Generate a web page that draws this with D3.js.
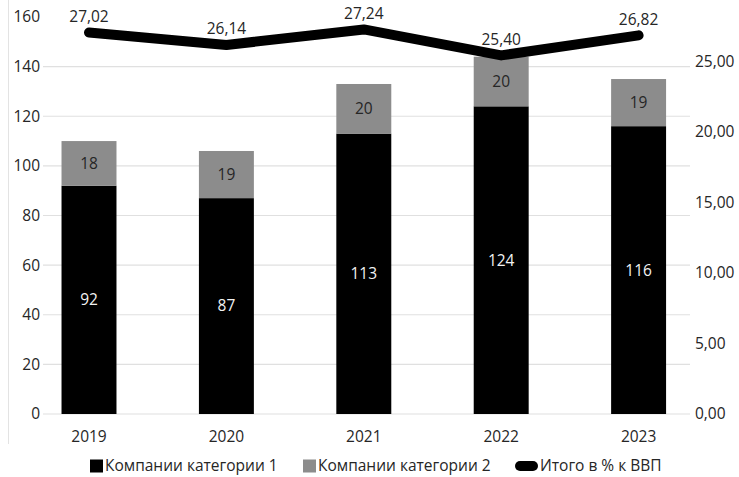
<!DOCTYPE html>
<html><head><meta charset="utf-8">
<script src="https://cdn.jsdelivr.net/npm/d3@7/dist/d3.min.js"></script>
<style>
html,body{margin:0;padding:0;background:#fff;}
text{font-family:"Open Sans",sans-serif;}
</style></head>
<body><svg id="chart" width="739" height="477"></svg>
<script>
const years = ["2019","2020","2021","2022","2023"];
const cat1 = [92, 87, 113, 124, 116];
const cat2 = [18, 19, 20, 20, 19];
const gdpShare = [27.02, 26.14, 27.24, 25.40, 26.82];
const leftTicks = [0,20,40,60,80,100,120,140,160];
const gridTicks = [0,20,40,60,80,100,120,140];
const rightTicks = [0,5,10,15,20,25];
const seriesNames = ["Компании категории 1","Компании категории 2","Итого в % к ВВП"];

const svg = d3.select("#chart");
const fs = 15.5, txt = "#262626";
const c1 = "#000000", c2 = "#8c8c8c";

const x = d3.scaleBand().domain(years).range([20.3, 707.3]).paddingInner(0.6).paddingOuter(0.3);
const yL = d3.scaleLinear().domain([0,160]).range([414,17]);
const yR = d3.scaleLinear().domain([0,28.12]).range([414,17]);
const fmt = d => d.toFixed(2).replace(".", ",");

// frame line at left
svg.append("line").attr("x1",8.5).attr("x2",8.5).attr("y1",0).attr("y2",444).attr("stroke","#e3e3e3");

// gridlines
svg.append("g").selectAll("line").data(gridTicks).join("line")
  .attr("x1",43).attr("x2",690).attr("y1",d=>yL(d)).attr("y2",d=>yL(d))
  .attr("stroke","#e0e0e0").attr("stroke-width",1.2);

// left axis
const gL = svg.append("g").attr("transform","translate(40,0)")
  .call(d3.axisLeft(yL).tickValues(leftTicks).tickSize(0).tickPadding(0));
gL.select(".domain").remove();
gL.selectAll("text").attr("font-size",fs).attr("fill",txt).attr("font-family","Open Sans");

// right axis
const gR = svg.append("g").attr("transform","translate(695,0)")
  .call(d3.axisRight(yR).tickValues(rightTicks).tickFormat(fmt).tickSize(0).tickPadding(0));
gR.select(".domain").remove();
gR.selectAll("text").attr("font-size",fs).attr("fill",txt).attr("font-family","Open Sans");

// x axis
const gX = svg.append("g").attr("transform","translate(0,431)")
  .call(d3.axisBottom(x).tickSize(0).tickPadding(0));
gX.select(".domain").remove();
gX.selectAll("text").attr("font-size",fs).attr("fill",txt).attr("font-family","Open Sans").attr("dy","0.71em");

// bars
const bars = svg.append("g");
bars.selectAll("rect.c1").data(years).join("rect").attr("class","c1")
  .attr("x",d=>x(d)).attr("width",x.bandwidth())
  .attr("y",(d,i)=>yL(cat1[i])).attr("height",(d,i)=>yL(0)-yL(cat1[i])).attr("fill",c1);
bars.selectAll("rect.c2").data(years).join("rect").attr("class","c2")
  .attr("x",d=>x(d)).attr("width",x.bandwidth())
  .attr("y",(d,i)=>yL(cat1[i]+cat2[i])).attr("height",(d,i)=>yL(cat1[i])-yL(cat1[i]+cat2[i])).attr("fill",c2);

// bar labels
bars.selectAll("text.l1").data(years).join("text").attr("class","l1")
  .attr("x",d=>x(d)+x.bandwidth()/2).attr("y",(d,i)=>yL(cat1[i]/2))
  .attr("text-anchor","middle").attr("dy","0.35em").attr("font-size",fs).attr("fill","#f2f2f2")
  .text((d,i)=>cat1[i]);
bars.selectAll("text.l2").data(years).join("text").attr("class","l2")
  .attr("x",d=>x(d)+x.bandwidth()/2).attr("y",(d,i)=>yL(cat1[i]+cat2[i]/2))
  .attr("text-anchor","middle").attr("dy","0.35em").attr("font-size",fs).attr("fill","#262626")
  .text((d,i)=>cat2[i]);

// line
const line = d3.line().x((d,i)=>x(years[i])+x.bandwidth()/2).y(d=>yR(d));
svg.append("path").datum(gdpShare).attr("d",line).attr("fill","none")
  .attr("stroke","#000").attr("stroke-width",10).attr("stroke-linecap","round").attr("stroke-linejoin","round");
svg.append("g").selectAll("text").data(gdpShare).join("text")
  .attr("x",(d,i)=>x(years[i])+x.bandwidth()/2).attr("y",d=>yR(d)-16)
  .attr("text-anchor","middle").attr("dy","0.35em").attr("font-size",fs).attr("fill","#262626")
  .text(d=>fmt(d));

// legend
const lg = svg.append("g");
const ly = 466;
lg.append("rect").attr("x",90).attr("y",ly-6.5).attr("width",13).attr("height",13).attr("fill",c1);
lg.append("text").attr("x",105).attr("y",ly).attr("dy","0.35em").attr("font-size",fs).attr("fill",txt).text(seriesNames[0]);
lg.append("rect").attr("x",303).attr("y",ly-6.5).attr("width",13).attr("height",13).attr("fill",c2);
lg.append("text").attr("x",318).attr("y",ly).attr("dy","0.35em").attr("font-size",fs).attr("fill",txt).text(seriesNames[1]);
lg.append("line").attr("x1",520).attr("x2",533).attr("y1",ly).attr("y2",ly)
  .attr("stroke","#000").attr("stroke-width",10).attr("stroke-linecap","round");
lg.append("text").attr("x",540).attr("y",ly).attr("dy","0.35em").attr("font-size",fs).attr("fill",txt).text(seriesNames[2]);
</script></body></html>
